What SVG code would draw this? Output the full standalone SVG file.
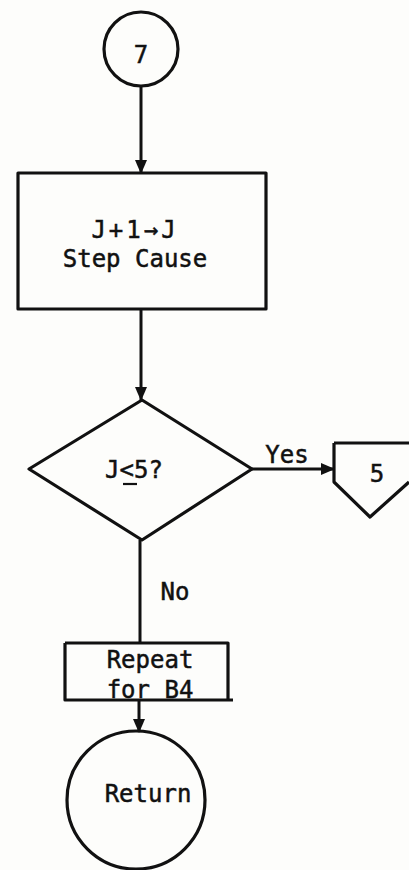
<svg xmlns="http://www.w3.org/2000/svg" width="409" height="870" viewBox="0 0 409 870">
<style>
.s{fill:none;stroke:#111;stroke-width:3.2;stroke-linejoin:round}
.t{font-family:"DejaVu Sans Mono","Liberation Mono",monospace;font-size:24px;fill:#111;stroke:#111;stroke-width:0.5;text-anchor:middle}
.c{stroke:#111;stroke-width:3;fill:none}
</style>
<defs>
<marker id="ah" viewBox="0 0 14 12" refX="13" refY="6" markerWidth="14" markerHeight="12" markerUnits="userSpaceOnUse" orient="auto">
<path d="M0,0 L14,6 L0,12 Z" fill="#111"/>
</marker>
</defs>
<rect width="409" height="870" fill="#fdfdfb"/>
<g id="connectors">
<line class="c" x1="141" y1="86" x2="141" y2="173" marker-end="url(#ah)"/>
<line class="c" x1="141" y1="309" x2="141" y2="400" marker-end="url(#ah)"/>
<line class="c" x1="252" y1="469" x2="334" y2="469" marker-end="url(#ah)"/>
<line class="c" x1="140" y1="540" x2="140" y2="643"/>
<line class="c" x1="139" y1="700" x2="139" y2="732" marker-end="url(#ah)"/>
<text class="t" x="287" y="463">Yes</text>
<text class="t" x="175" y="600">No</text>
</g>
<g id="n7">
<circle class="s" cx="141" cy="49" r="37"/>
<text class="t" x="141" y="63">7</text>
</g>
<g id="step">
<rect class="s" x="18" y="173" width="248" height="136"/>
<text class="t" x="135" y="238" letter-spacing="3">J+1→J</text>
<text class="t" x="135" y="267">Step Cause</text>
</g>
<g id="decision">
<path class="s" d="M142,400 L252,469 L142,540 L29,469 Z"/>
<text class="t" x="134" y="478">J&lt;5?</text>
<line x1="123" y1="484" x2="137" y2="484" stroke="#111" stroke-width="2.2"/>
</g>
<g id="off5">
<path class="s" d="M334,443 L409,443 M334,443 L334,482 L370,517 L409,482"/>
<text class="t" x="377" y="482">5</text>
</g>
<g id="repeat">
<path class="s" d="M65,643 L228,643 L228,700 L233,700 M65,643 L65,700 L228,700"/>
<text class="t" x="150" y="668">Repeat</text>
<text class="t" x="150" y="698">for B4</text>
</g>
<g id="ret">
<circle class="s" cx="136" cy="800" r="69"/>
<text class="t" x="148" y="802">Return</text>
</g>
</svg>
